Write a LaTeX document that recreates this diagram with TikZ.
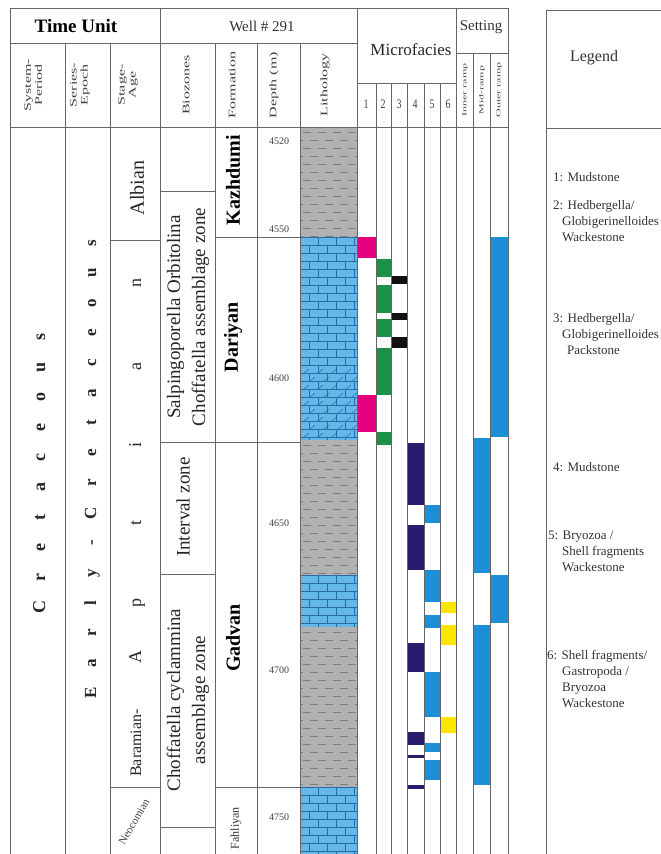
\documentclass[tikz,border=0pt]{standalone}
\usepackage{fontspec}
\setmainfont{Liberation Serif}

\definecolor{shalegrey}{HTML}{B1B1B1}
\definecolor{shaledash}{HTML}{7E7E7E}
\definecolor{limeblue}{HTML}{63B8E8}
\definecolor{limeline}{HTML}{2B6CA8}
\definecolor{mfmagenta}{HTML}{E5007E}
\definecolor{mfgreen}{HTML}{1D9147}
\definecolor{mfblack}{HTML}{111111}
\definecolor{mfnavy}{HTML}{2A1C6C}
\definecolor{mfblue}{HTML}{1E8ED6}
\definecolor{mfyellow}{HTML}{FFE600}

\tikzset{
  rule/.style={draw=black!60, line width=0.8pt},
  colhead/.style={rotate=90, xscale=1.6, align=center, inner sep=0pt,
    font=\fontsize{10}{11}\selectfont, text=black!75},
  ramphead/.style={rotate=90, xscale=2, inner sep=0pt,
    font=\fontsize{6}{7}\selectfont, text=black!75},
  mfnum/.style={yscale=1.3, inner sep=0pt, font=\fontsize{10}{11}\selectfont, text=black!75},
  sysletter/.style={rotate=90, anchor=base, inner sep=0pt,
    font=\bfseries\fontsize{18}{20}\selectfont, text=black!85},
  serletter/.style={rotate=90, anchor=base, inner sep=0pt,
    font=\bfseries\fontsize{17}{19}\selectfont, text=black!85},
  stageletter/.style={rotate=90, anchor=base, inner sep=0pt,
    font=\fontsize{18}{20}\selectfont, text=black!85},
  zonetext/.style={rotate=90, align=center, inner sep=0pt,
    font=\fontsize{19}{25}\selectfont, text=black!85},
  fmtext/.style={rotate=90, inner sep=0pt, font=\bfseries\fontsize{20}{22}\selectfont},
  depthtext/.style={inner sep=0pt, font=\fontsize{10}{11}\selectfont, text=black!75},
  legtext/.style={anchor=base west, align=left, inner sep=0pt,
    font=\fontsize{13}{16}\selectfont, text=black!80}
}

\newcommand{\shalebed}[2]{%
  \begin{scope}
    \clip (300,#1) rectangle (357,#2);
    \fill[shalegrey] (300,#1) rectangle (357,#2);
    \pgfmathtruncatemacro{\nrows}{(#2-#1)/8}
    \foreach \row in {0,...,\nrows}
      \foreach \col in {-1,...,3}
        \draw[shaledash, line width=0.6pt]
          ({303+\col*15+mod(\row,2)*7},{#1+5+\row*8}) -- ++(8,0);
  \end{scope}}

\newcommand{\limebed}[2]{%
  \begin{scope}
    \clip (300,#1) rectangle (357,#2);
    \fill[limeblue] (300,#1) rectangle (357,#2);
    \pgfmathtruncatemacro{\nrows}{(#2-#1)/8}
    \foreach \row in {0,...,\nrows} {
      \draw[limeline, line width=0.5pt] (300,{#1+\row*8}) -- (357,{#1+\row*8});
      \foreach \col in {-1,...,3}
        \draw[limeline, line width=0.5pt]
          ({300+\col*18+mod(\row,2)*9},{#1+\row*8}) -- ++(0,8);
    }
  \end{scope}}

\begin{document}
\begin{tikzpicture}[x=1pt, y=-1pt]
    \useasboundingbox (0,0) rectangle (661,854);

    % Die Lagen und Balken kommen zuerst, damit die Tabellenlinien obenauf liegen.
    \shalebed{127}{237}
    \limebed{237}{440}
    \shalebed{440}{575}
    \limebed{575}{627}
    \shalebed{627}{787}
    \limebed{787}{854}
    \begin{scope}
        \clip (300,368) rectangle (357,437);
        \foreach \row in {0,...,8}
            \foreach \col in {0,...,3}
                \draw[limeline, line width=0.5pt]
                    ({304+\col*14+mod(\row,2)*6},{373+\row*8}) -- ++(5,-4);
    \end{scope}

    \foreach \xl/\xr/\yt/\yb/\cl in {
        357/376/237/258/mfmagenta, 357/376/395/432/mfmagenta,
        376/391/259/277/mfgreen, 376/391/285/313/mfgreen, 376/391/319/337/mfgreen,
        376/391/348/395/mfgreen, 376/391/432/445/mfgreen,
        391/407/276/284/mfblack, 391/407/313/320/mfblack, 391/407/337/348/mfblack,
        407/424/443/505/mfnavy, 407/424/525/570/mfnavy, 407/424/643/672/mfnavy,
        407/424/732/745/mfnavy, 407/424/755/758/mfnavy, 407/424/785/789/mfnavy,
        424/440/505/523/mfblue, 424/440/570/602/mfblue, 424/440/615/628/mfblue,
        424/440/672/717/mfblue, 424/440/743/752/mfblue, 424/440/760/780/mfblue,
        440/456/602/613/mfyellow, 440/456/625/645/mfyellow, 440/456/717/733/mfyellow,
        473/490/438/573/mfblue, 473/490/625/785/mfblue,
        490/508/237/437/mfblue, 490/508/575/623/mfblue}
        \fill[\cl] (\xl,\yt) rectangle (\xr,\yb);

    % table rules
    \draw[rule] (10,8) -- (508,8);
    \draw[rule] (10,8) -- (10,854);
    \draw[rule] (508,8) -- (508,854);
    \draw[rule] (10,43) -- (357,43);
    \draw[rule] (357,83) -- (456,83);
    \draw[rule] (456,53) -- (508,53);
    \draw[rule, line width=1pt] (10,127) -- (508,127);
    \foreach \xx in {160,357,456}
        \draw[rule] (\xx,8) -- (\xx,854);
    \foreach \xx in {65,110,215,257,300}
        \draw[rule] (\xx,43) -- (\xx,854);
    \foreach \xx in {376,391,407,424,440}
        \draw[rule] (\xx,83) -- (\xx,854);
    \foreach \xx in {473,490}
        \draw[rule] (\xx,53) -- (\xx,854);
    \draw[rule] (110,240) -- (160,240);
    \draw[rule] (110,787) -- (160,787);
    \foreach \yy in {191,442,574,827}
        \draw[rule] (160,\yy) -- (215,\yy);
    \foreach \yy in {237,442,787}
        \draw[rule] (215,\yy) -- (300,\yy);

    % legend box
    \draw[rule] (661,10) -- (546,10) -- (546,854);
    \draw[rule] (546,128) -- (661,128);

    \node[font=\bfseries\fontsize{19}{22}\selectfont] (timeunit) at (76,26) {Time Unit};
    \node[font=\fontsize{15}{17}\selectfont, text=black!80] (well) at (262,26) {Well \# 291};
    \node[font=\fontsize{17}{19}\selectfont, text=black!85] (microfacies) at (411,50) {Microfacies};
    \node[font=\fontsize{15}{17}\selectfont, text=black!80] (setting) at (481,27) {Setting};
    \node[font=\fontsize{16}{18}\selectfont, text=black!80] (legend) at (594,58) {Legend};

    \node[colhead] (h-system) at (33,85) {System-\\Period};
    \node[colhead] (h-series) at (80,85) {Series-\\Epoch};
    \node[colhead] (h-stage) at (128,85) {Stage-\\Age};
    \node[colhead] (h-biozones) at (186,85) {Biozones};
    \node[colhead] (h-formation) at (232,85) {Formation};
    \node[colhead] (h-depth) at (274,85) {Depth (m)};
    \node[colhead] (h-litho) at (325,85) {Lithology};
    \node[ramphead] (h-inner) at (465,90) {Inner ramp};
    \node[ramphead] (h-mid) at (482,90) {Mid-ramp};
    \node[ramphead] (h-outer) at (499,90) {Outer ramp};
    \foreach \n/\xx in {1/366,2/383,3/399,4/415,5/432,6/448}
        \node[mfnum] (mf-\n) at (\xx,104) {\n};

    \foreach \ch [count=\k] in {C,r,e,t,a,c,e,o,u,s}
        \node[sysletter] (sys-\k) at (45,{607-30*(\k-1)}) {\ch};
    \foreach \ch [count=\k] in {E,a,r,l,y,-,C,r,e,t,a,c,e,o,u,s}
        \node[serletter] (ser-\k) at (96,{693-30*(\k-1)}) {\ch};
    \foreach \ch/\yy [count=\k] in {A/657,p/603,t/523,i/445,a/367,n/283}
        \node[stageletter] (apt-\k) at (141,\yy) {\ch};
    \node[stageletter, font=\fontsize{16}{18}\selectfont] (baramian) at (141,743) {Baramian-};
    \node[rotate=90, inner sep=0pt, font=\fontsize{20}{22}\selectfont, text=black!85]
        (albian) at (137,188) {Albian};
    \node[rotate=60, inner sep=0pt, font=\fontsize{11}{12}\selectfont, text=black!75]
        (neocomian) at (134,822) {Neocomian};

    \node[zonetext] (bz-salp) at (188,317) {Salpingoporella Orbitolina\\Choffatella assemblage zone};
    \node[zonetext] (bz-int) at (183,507) {Interval zone};
    \node[zonetext] (bz-choff) at (188,700) {Choffatella cyclammina\\assemblage zone};

    \node[fmtext] (fm-kaz) at (233,180) {Kazhdumi};
    \node[fmtext] (fm-dar) at (233,337) {Dariyan};
    \node[fmtext] (fm-gad) at (233,638) {Gadvan};
    \node[rotate=90, inner sep=0pt, font=\fontsize{12}{14}\selectfont, text=black!80]
        (fm-fah) at (236,828) {Fahliyan};
    \foreach \dd/\yy in {4520/141,4550/229,4600/378,4650/523,4700/670,4750/817}
        \node[depthtext] (d-\dd) at (279,\yy) {\dd};

    \node[legtext] (leg-1) at (553,181) {1: Mudstone};
    \node[legtext] (leg-2) at (553,241) {2: Hedbergella/\\\hspace*{9pt}Globigerinelloides\\\hspace*{9pt}Wackestone};
    \node[legtext] (leg-3) at (553,354) {3: Hedbergella/\\\hspace*{9pt}Globigerinelloides\\\hspace*{14pt}Packstone};
    \node[legtext] (leg-4) at (553,471) {4: Mudstone};
    \node[legtext] (leg-5) at (548,571) {5: Bryozoa /\\\hspace*{14pt}Shell fragments\\\hspace*{14pt}Wackestone};
    \node[legtext] (leg-6) at (547,707) {6: Shell fragments/\\\hspace*{15pt}Gastropoda /\\\hspace*{15pt}Bryozoa\\\hspace*{15pt}Wackestone};
\end{tikzpicture}
\end{document}
